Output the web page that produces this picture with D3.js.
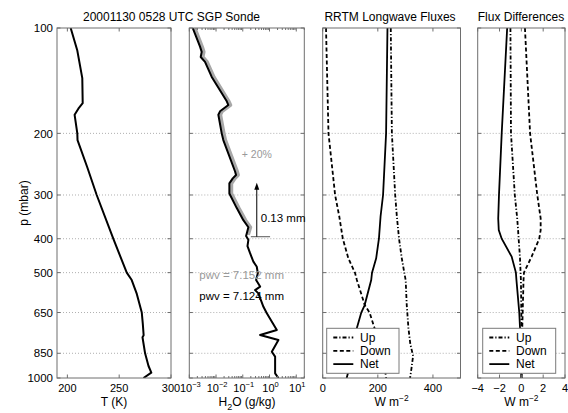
<!DOCTYPE html>
<html><head><meta charset="utf-8">
<script src="https://cdn.jsdelivr.net/npm/d3@7"></script>
<style>
html,body{margin:0;padding:0;background:#fff;}
svg{display:block;font-family:"Liberation Sans",Arial,Helvetica,sans-serif;}
</style></head>
<body><svg id="c" width="568" height="413"></svg>
<script>
// ---------- data ----------
const pressureTicks = [100, 200, 300, 400, 500, 650, 850, 1000];

// Temperature profile
const tempP = [100, 116, 139, 164, 170, 177, 200, 209, 250, 300, 400, 500, 525, 575, 650, 700, 755, 765, 850, 924, 965, 995, 1000];
const tempK = [203.2, 209.6, 214.4, 214.8, 210.6, 207.0, 209.6, 209.8, 219.2, 228.3, 244.3, 257.3, 262.1, 267.0, 271.8, 272.8, 273.6, 272.5, 275.0, 278.3, 281.0, 274.5, 273.4];

// Water vapour mixing ratio (g/kg)
const h2oP = [100, 113, 117, 121, 125, 138, 162, 166, 173, 177, 200, 209, 257, 263, 269, 278, 297, 327, 354, 371, 393, 403, 420, 440, 465, 481, 502, 525, 548, 561, 573, 626, 653, 729, 754, 779, 841, 869, 970, 1000];
const h2oQ = [0.00134, 0.00252, 0.00291, 0.00267, 0.00387, 0.0069, 0.0252, 0.0289, 0.0141, 0.0122, 0.0163, 0.0187, 0.0515, 0.0561, 0.0422, 0.0315, 0.0315, 0.0596, 0.105, 0.162, 0.133, 0.162, 0.150, 0.1875, 0.249, 0.334, 0.365, 0.315, 0.445, 0.289, 0.384, 0.592, 0.792, 1.876, 0.445, 2.153, 1.22, 1.62, 1.62, 2.15];
// +20% profile (upper part)
const h2oPlusP = [100, 113, 117, 121, 125, 138, 162, 166, 173, 177, 200, 209, 257, 263, 269, 278, 297, 327, 354, 371, 390];
const h2oPlusQ = [0.00161, 0.00302, 0.00349, 0.0032, 0.00464, 0.00828, 0.0302, 0.0347, 0.0169, 0.0146, 0.0196, 0.0224, 0.0618, 0.0673, 0.0506, 0.0378, 0.0378, 0.0715, 0.126, 0.194, 0.160];

// RRTM fluxes (W m-2)
const fluxP = [100, 200, 300, 345, 400, 455, 500, 525, 620, 650, 720, 800, 865, 940, 1000];
const fluxUp = [247, 251, 263, 269, 277, 287, 296, 301, 305, 307, 311, 318, 328, 322, 317];
const fluxDown = [12, 21, 45, 60, 73, 93, 117, 124, 153, 170, 188, 205, 217, 226, 230];
const fluxNet = [235, 230, 219, 210, 204, 194, 179, 176, 152, 140, 124, 113, 111, 96, 87];

// Flux differences (W m-2)
const diffP = [100, 200, 300, 350, 378, 400, 450, 500, 525, 650, 800, 1000];
const diffUp = [-1.0, -0.95, -0.6, -0.38, -0.3, -0.25, -0.13, -0.07, -0.04, 0.0, 0.02, 0.03];
const diffDown = [0.33, 0.8, 1.46, 1.77, 1.77, 1.64, 0.94, 0.24, 0.2, 0.12, 0.05, 0.02];
const diffNet = [-1.3, -1.8, -2.05, -2.12, -2.07, -1.8, -0.89, -0.5, -0.45, -0.19, -0.05, 0.0];

const tempTicks = [200, 250, 300];
const h2oTicks = [-3, -2, -1, 0, 1];
const fluxTicks = [0, 200, 400];
const diffTicks = [-4, -2, 0, 2, 4];
const legendLabels = ["Up", "Down", "Net"];

// ---------- layout ----------
const svg = d3.select("#c");
const FS = 11;
const yTop = 28, yBot = 378;
const y = d3.scaleLog().domain([100, 1000]).range([yTop, yBot]);
const frameCol = "#6e6e6e";
const TL = 3.5;

const panels = [
  {x: d3.scaleLinear().domain([190, 300]).range([57, 171]), ticks: tempTicks},
  {x: d3.scaleLog().domain([1e-3, 20]).range([189.3, 304.3]), ticks: h2oTicks.map(e => Math.pow(10, e)), log: true},
  {x: d3.scaleLinear().domain([0, 500]).range([322.7, 460.5]), ticks: fluxTicks},
  {x: d3.scaleLinear().domain([-4, 4]).range([477.7, 565]), ticks: diffTicks}
];

const dashes = {Up: "4,2,1.2,2", Down: "4,2.5", Net: null};

panels.forEach((P, i) => {
  const [x0, x1] = P.x.range();
  const g = svg.append("g");
  const cid = "clip" + i;
  svg.append("clipPath").attr("id", cid).append("rect").attr("x", x0).attr("y", yTop).attr("width", x1 - x0).attr("height", yBot - yTop);
  P.clip = "url(#" + cid + ")";
  g.selectAll("line").data(pressureTicks.filter(p => p !== 100 && p !== 1000)).join("line")
    .attr("x1", x0).attr("x2", x1).attr("y1", d => y(d)).attr("y2", d => y(d))
    .attr("stroke", "#9a9a9a").attr("stroke-width", 0.8).attr("stroke-dasharray", "1,2");
});

function drawFrame(P, i) {
  const [x0, x1] = P.x.range();
  const g = svg.append("g");
  g.append("rect").attr("x", x0).attr("y", yTop).attr("width", x1 - x0).attr("height", yBot - yTop)
    .attr("fill", "none").attr("stroke", frameCol).attr("stroke-width", 1);
  pressureTicks.forEach(p => {
    g.append("line").attr("x1", x0).attr("x2", x0 + TL).attr("y1", y(p)).attr("y2", y(p)).attr("stroke", frameCol);
    g.append("line").attr("x1", x1).attr("x2", x1 - TL).attr("y1", y(p)).attr("y2", y(p)).attr("stroke", frameCol);
  });
  P.ticks.forEach(t => {
    const xx = P.x(t);
    g.append("line").attr("x1", xx).attr("x2", xx).attr("y1", yBot).attr("y2", yBot - TL).attr("stroke", frameCol);
    g.append("line").attr("x1", xx).attr("x2", xx).attr("y1", yTop).attr("y2", yTop + TL).attr("stroke", frameCol);
  });
  if (P.log) {
    const minors = [];
    for (let e = -3; e <= 1; e++) for (let m = 2; m <= 9; m++) {
      const v = m * Math.pow(10, e);
      if (v <= P.x.domain()[1]) minors.push(v);
    }
    minors.forEach(v => {
      const xx = P.x(v);
      g.append("line").attr("x1", xx).attr("x2", xx).attr("y1", yBot).attr("y2", yBot - 2).attr("stroke", frameCol);
      g.append("line").attr("x1", xx).attr("x2", xx).attr("y1", yTop).attr("y2", yTop + 2).attr("stroke", frameCol);
    });
  }
  if (P.log) {
    h2oTicks.forEach(e => {
      const t = g.append("text").attr("x", P.x(Math.pow(10, e)) + 1).attr("y", 392).attr("text-anchor", "middle")
        .attr("font-size", FS).attr("fill", "#000");
      t.append("tspan").text("10");
      t.append("tspan").attr("dy", -5).attr("font-size", 7.5).text(e < 0 ? "\u2212" + (-e) : String(e));
    });
  } else {
    P.ticks.forEach(v => {
      g.append("text").attr("x", P.x(v)).attr("y", 392).attr("text-anchor", "middle")
        .attr("font-size", FS).attr("fill", "#000").text(v < 0 ? "\u2212" + (-v) : String(v));
    });
  }
}

const lineGen = (P, xs, ps) => d3.line().x((d, k) => P.x(xs[k])).y((d, k) => y(ps[k]))(ps);

svg.append("path").attr("d", lineGen(panels[0], tempK, tempP)).attr("clip-path", panels[0].clip)
  .attr("fill", "none").attr("stroke", "#000").attr("stroke-width", 2).attr("stroke-linejoin", "round");

svg.append("path").attr("d", lineGen(panels[1], h2oPlusQ, h2oPlusP)).attr("clip-path", panels[1].clip)
  .attr("fill", "none").attr("stroke", "#a8a8a8").attr("stroke-width", 3.5).attr("stroke-linejoin", "round");
svg.append("path").attr("d", lineGen(panels[1], h2oQ, h2oP)).attr("clip-path", panels[1].clip)
  .attr("fill", "none").attr("stroke", "#000").attr("stroke-width", 2).attr("stroke-linejoin", "round");

[[panels[2], [fluxUp, fluxDown, fluxNet], fluxP], [panels[3], [diffUp, diffDown, diffNet], diffP]].forEach(([P, series, ps]) => {
  series.forEach((s, k) => {
    const name = legendLabels[k];
    const path = svg.append("path").attr("d", lineGen(P, s, ps)).attr("clip-path", P.clip)
      .attr("fill", "none").attr("stroke", "#000").attr("stroke-width", 1.8);
    if (dashes[name]) path.attr("stroke-dasharray", dashes[name]);
  });
});

panels.forEach(drawFrame);

pressureTicks.forEach(p => {
  svg.append("text").attr("x", 53).attr("y", y(p)).attr("dy", "0.36em").attr("text-anchor", "end")
    .attr("font-size", FS + 0.5).text(p);
});
svg.append("text").attr("transform", `translate(27.5,${(yTop + yBot) / 2}) rotate(-90)`).attr("text-anchor", "middle")
  .attr("font-size", 12).text("p (mbar)");

svg.append("text").attr("x", 171.5).attr("y", 20.5).attr("text-anchor", "middle").attr("font-size", 12).text("20001130 0528 UTC SGP Sonde");
svg.append("text").attr("x", 390).attr("y", 20.5).attr("text-anchor", "middle").attr("font-size", 12).text("RRTM Longwave Fluxes");
svg.append("text").attr("x", 521).attr("y", 20.5).attr("text-anchor", "middle").attr("font-size", 12).text("Flux Differences");

svg.append("text").attr("x", 114).attr("y", 406).attr("text-anchor", "middle").attr("font-size", 12).text("T (K)");
{
  const t = svg.append("text").attr("x", 247).attr("y", 406).attr("text-anchor", "middle").attr("font-size", 12);
  t.append("tspan").text("H");
  t.append("tspan").attr("dy", 4).attr("font-size", 9).text("2");
  t.append("tspan").attr("dy", -4).text("O (g/kg)");
}
[391.6, 521.4].forEach(cx => {
  const t = svg.append("text").attr("x", cx).attr("y", 406).attr("text-anchor", "middle").attr("font-size", 12);
  t.append("tspan").text("W m");
  t.append("tspan").attr("dy", -5).attr("font-size", 8.5).text("\u22122");
});

const P2 = panels[1];
svg.append("text").attr("x", P2.x(0.092)).attr("y", y(235.6)).attr("font-size", 10.5).attr("fill", "#999").text("+ 20%");
svg.append("line").attr("x1", P2.x(0.2)).attr("x2", P2.x(1.05)).attr("y1", y(394.8)).attr("y2", y(394.8)).attr("stroke", "#555").attr("stroke-width", 1);
svg.append("line").attr("x1", P2.x(0.334)).attr("x2", P2.x(0.334)).attr("y1", y(394.8)).attr("y2", y(282)).attr("stroke", "#000").attr("stroke-width", 1);
{
  const ax = P2.x(0.334), ay = y(276.7);
  svg.append("path").attr("d", `M${ax},${ay} L${ax - 2.5},${ay + 7} L${ax + 2.5},${ay + 7} Z`).attr("fill", "#000");
}
svg.append("text").attr("x", P2.x(0.47)).attr("y", y(357.6)).attr("font-size", FS + 0.5).text("0.13 mm");
svg.append("text").attr("x", P2.x(0.00237)).attr("y", y(519.7)).attr("font-size", FS + 0.5).attr("fill", "#999").text("pwv = 7.152 mm");
svg.append("text").attr("x", P2.x(0.00237)).attr("y", y(598.5)).attr("font-size", FS + 0.5).attr("fill", "#000").text("pwv = 7.124 mm");

[[panels[2], 326.7], [panels[3], 482.7]].forEach(([P, lx]) => {
  const g = svg.append("g");
  g.append("rect").attr("x", lx).attr("y", 328.3).attr("width", P === panels[2] ? 72.3 : 73).attr("height", 45)
    .attr("fill", "#fff").attr("stroke", "#7a7a7a").attr("stroke-width", 1);
  legendLabels.forEach((name, k) => {
    const yy = 337.5 + k * 13.3;
    const l = g.append("line").attr("x1", lx + 6.6).attr("x2", lx + 26.6).attr("y1", yy).attr("y2", yy)
      .attr("stroke", "#000").attr("stroke-width", 1.8);
    if (dashes[name]) l.attr("stroke-dasharray", dashes[name]);
    g.append("text").attr("x", lx + 33.3).attr("y", yy).attr("dy", "0.36em").attr("font-size", 12).text(name);
  });
});
</script></body></html>
